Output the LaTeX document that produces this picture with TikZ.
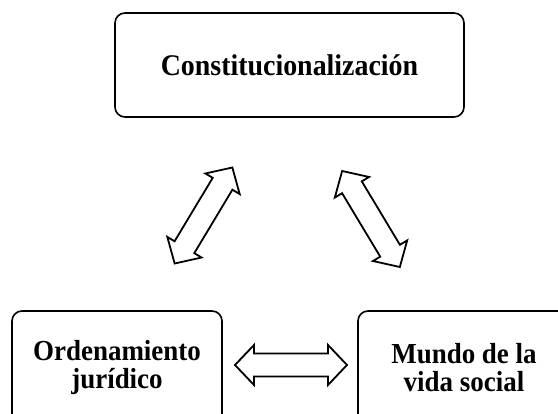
\documentclass[tikz,border=0pt]{standalone}
\usepackage{fontspec}
\setmainfont{Liberation Serif}[FakeStretch=0.93]
\begin{document}
\begin{tikzpicture}[x=1pt,y=-1pt,
  box/.style={draw, line width=1.6pt, rounded corners=10pt, align=center,
    font=\bfseries\fontsize{29}{28}\selectfont, inner sep=0pt},
  arrowline/.style={draw, line width=1.8pt, line join=miter, fill=white},
  dblarrow/.pic={\path[arrowline] (-56,0) -- (-37,-20) -- (-37,-11.5) -- (37,-11.5) -- (37,-20) -- (56,0) -- (37,20) -- (37,11.5) -- (-37,11.5) -- (-37,20) -- cycle;}]
\useasboundingbox (0,0) rectangle (558,414);
\clip (0,0) rectangle (558,414);
\node[box, minimum width=349pt, minimum height=104pt,
  font=\bfseries\fontsize{30}{30}\selectfont] (constit) at (289.5,65) {Constitucionalización};
\node[box, minimum width=210pt, minimum height=113pt] (orden) at (117,367.5) {Ordenamiento\\jurídico};
\node[box, minimum width=212pt, minimum height=113pt] (mundo) at (464,367.5) {Mundo de la\\vida social};
\pic[rotate=59] (a1) at (203.5,215.5) {dblarrow};
\pic[rotate=-59] (a2) at (371,219) {dblarrow};
\pic (a3) at (291,365) {dblarrow};
\end{tikzpicture}
\end{document}
